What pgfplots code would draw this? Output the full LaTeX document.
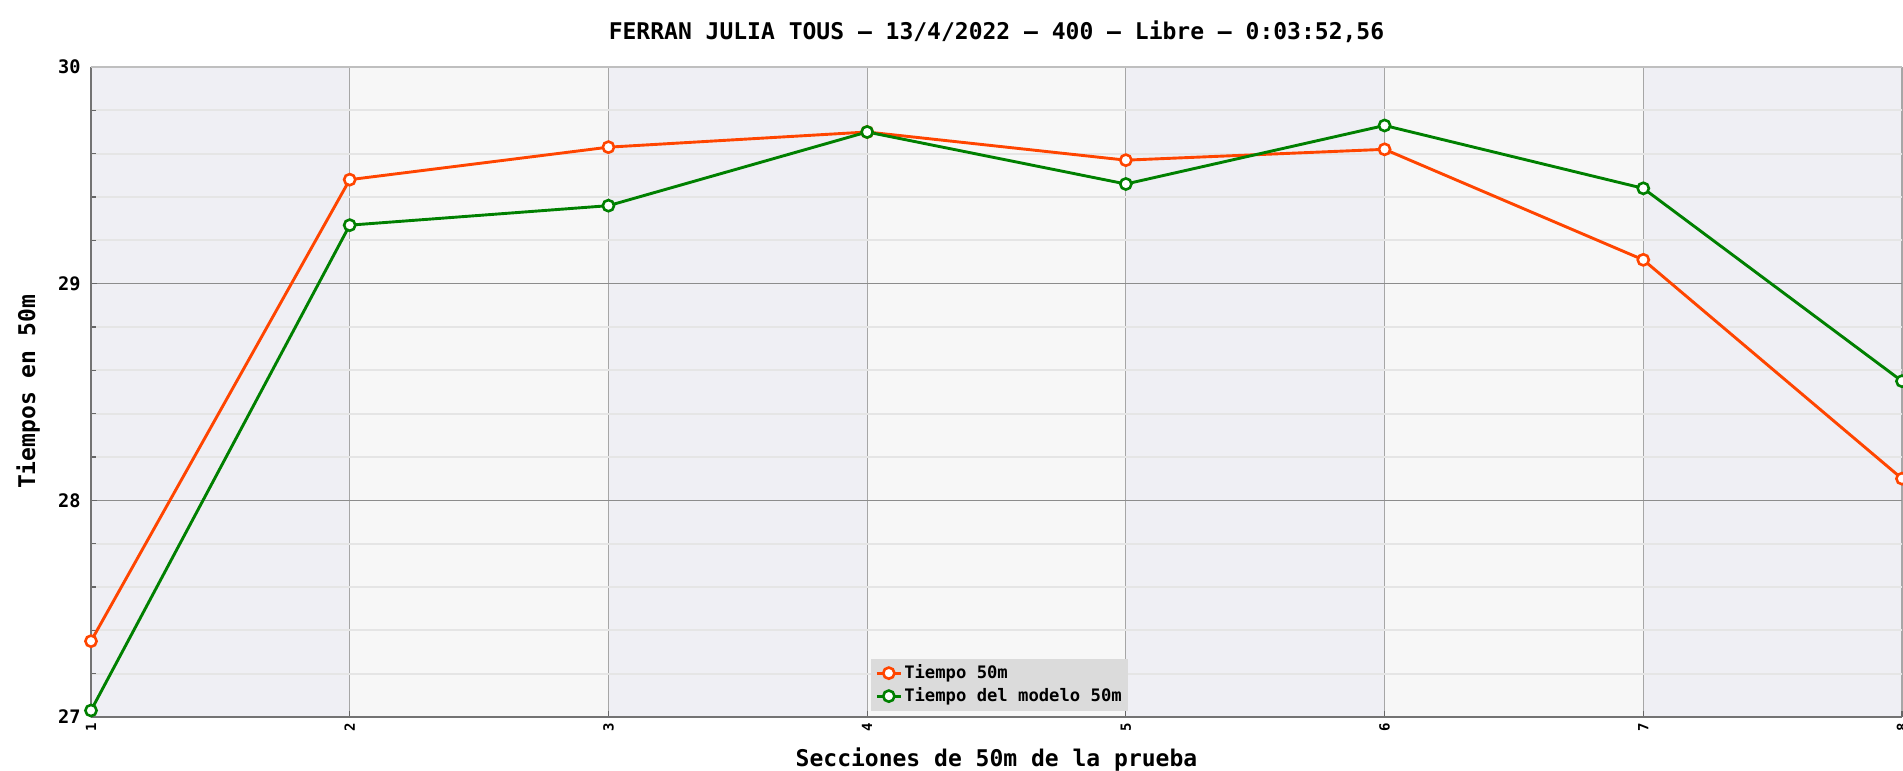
\documentclass[border=0pt]{standalone}
\usepackage{pgfplots}
\pgfplotsset{compat=1.18}
\usepackage{fontspec}
\setmainfont{DejaVu Sans Mono}
\definecolor{cred}{HTML}{FF4500}
\definecolor{cgreen}{HTML}{008000}
\definecolor{banddark}{HTML}{EFEFF4}
\definecolor{bandlight}{HTML}{F7F7F7}
\begin{document}
\begin{tikzpicture}
\begin{axis}[
  set layers,
  at={(0,0)}, anchor=south west,
  scale only axis, width=905.5pt, height=325pt,
  xmin=1, xmax=8, ymin=27, ymax=30,
  xtick={1,2,3,4,5,6,7,8}, ytick={27,28,29,30},
  minor y tick num=4,
  axis lines*=left,
  axis line style={draw=black!55, line width=1pt},
  axis background/.style={fill=banddark},
  xmajorgrids, ymajorgrids, yminorgrids,
  major x grid style={draw=black!35, line width=0.6pt},
  major y grid style={draw=black!45, line width=0.6pt},
  minor y grid style={draw=black!10, line width=1pt},
  tick style={draw=black!60, line width=0.6pt},
  major tick length=3pt, minor tick length=2.5pt,
  /pgf/number format/assume math mode=true,
  xticklabel style={rotate=90, anchor=east, inner sep=0pt, inner xsep=3pt,
    font=\fontsize{7}{8}\selectfont\bfseries},
  yticklabel style={anchor=east, inner sep=0pt, inner xsep=5pt,
    font=\fontsize{9.3}{10}\selectfont\bfseries},
  title={FERRAN JULIA TOUS – 13/4/2022 – 400 – Libre – 0:03:52,56},
  title style={at={(0.5,1.0246)}, anchor=base, inner sep=0pt,
    font=\fontsize{11.5}{13}\selectfont\bfseries},
  xlabel={Secciones de 50m de la prueba},
  xlabel style={at={(0.5,-0.0754)}, anchor=base, inner sep=0pt,
    font=\fontsize{11.5}{13}\selectfont\bfseries},
  ylabel={Tiempos en 50m},
  ylabel style={at={(-0.0309,0.5)}, anchor=base, inner sep=0pt,
    font=\fontsize{11.5}{13}\selectfont\bfseries},
  legend style={at={(0.4307,0.0092)}, anchor=south west, fill=black!14,
    draw=none, font=\fontsize{8.6}{10}\selectfont\bfseries,
    inner sep=2pt, row sep=1pt, nodes={inner sep=1pt},
    cells={anchor=west}},
  legend image code/.code={
    \draw[mark repeat=2, mark phase=2, #1] plot coordinates {(0pt,0pt) (6pt,0pt) (12pt,0pt)};
  },
]
\begin{pgfonlayer}{axis background}
  \fill[bandlight] (axis cs:2,27) rectangle (axis cs:3,30);
  \fill[bandlight] (axis cs:4,27) rectangle (axis cs:5,30);
  \fill[bandlight] (axis cs:6,27) rectangle (axis cs:7,30);
\end{pgfonlayer}
\begin{pgfonlayer}{axis lines}
  \draw[black!25, line width=1pt] (rel axis cs:0,1) -- (rel axis cs:1,1);
\end{pgfonlayer}
\addplot[cred, line width=1.45pt, mark=*, mark size=2.8pt,
  mark options={fill=white, draw=cred, line width=1.3pt}]
  coordinates {(1,27.35) (2,29.48) (3,29.63) (4,29.70) (5,29.57) (6,29.62) (7,29.11) (8,28.10)};
\addlegendentry{Tiempo 50m}
\addplot[cgreen, line width=1.45pt, mark=*, mark size=2.8pt,
  mark options={fill=white, draw=cgreen, line width=1.3pt}]
  coordinates {(1,27.03) (2,29.27) (3,29.36) (4,29.70) (5,29.46) (6,29.73) (7,29.44) (8,28.55)};
\addlegendentry{Tiempo del modelo 50m}
\end{axis}
\pgfresetboundingbox
\useasboundingbox (-45.5pt,-27pt) rectangle (906pt,358.5pt);
\end{tikzpicture}
\end{document}
